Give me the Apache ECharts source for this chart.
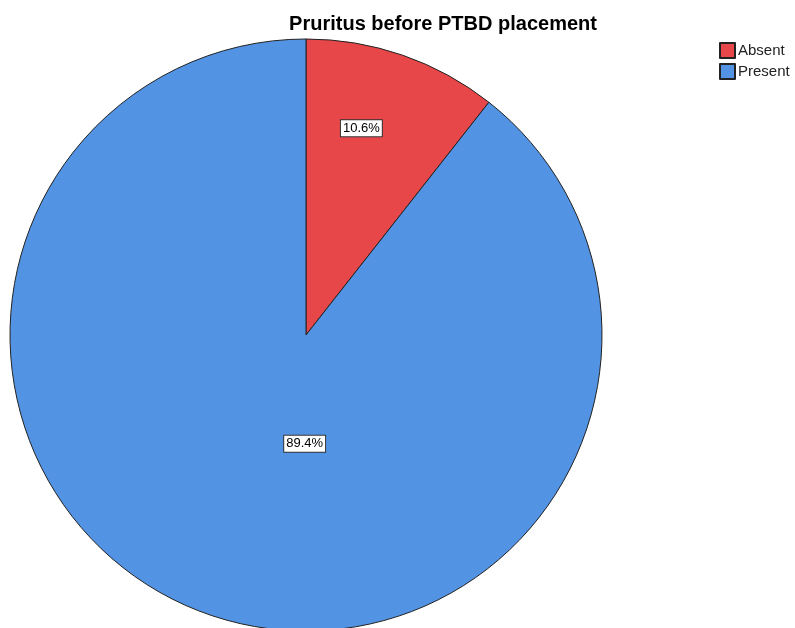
<!DOCTYPE html>
<html><head><meta charset="utf-8">
<script src="https://cdn.jsdelivr.net/npm/echarts@6/dist/echarts.min.js"></script>
<style>html,body{margin:0;padding:0;background:#fff}#c{width:795px;height:628px}</style>
</head><body><div id="c"></div>
<script>
const categories = ['Absent', 'Present'];
const values = [10.6, 89.4];
const colors = ['#E8474A', '#5294E3'];
const labelShift = [[6, -64], [48, -34]];

const chart = echarts.init(document.getElementById('c'));
chart.setOption({
  animation: false,
  backgroundColor: '#fff',
  title: {
    text: 'Pruritus before PTBD placement',
    left: 438, top: 9, textAlign: 'center',
    textStyle: {fontFamily: 'Liberation Sans, Arial', fontSize: 20, fontWeight: 'bold', color: '#000'}
  },
  legend: {
    orient: 'vertical', left: 714, top: 37,
    itemWidth: 15, itemHeight: 15, itemGap: 4,
    icon: 'rect',
    textStyle: {fontFamily: 'Liberation Sans, Arial', fontSize: 15, color: '#222', padding: [0, 0, 0, -2]},
    data: categories
  },
  series: [{
    type: 'pie',
    center: [306, 335],
    radius: [0, 296],
    startAngle: 90,
    clockwise: true,
    itemStyle: {borderColor: '#222', borderWidth: 1},
    label: {
      show: true, position: 'inside',
      formatter: p => p.value.toFixed(1) + '%',
      fontFamily: 'Liberation Sans, Arial', fontSize: 13, color: '#000',
      backgroundColor: '#fff', borderColor: '#333', borderWidth: 1, padding: [2, 2, 1, 2]
    },
    labelLayout: p => ({dx: labelShift[p.dataIndex][0], dy: labelShift[p.dataIndex][1]}),
    emphasis: {disabled: true},
    data: categories.map((c, i) => ({name: c, value: values[i], itemStyle: {color: colors[i]}}))
  }]
});
</script></body></html>
